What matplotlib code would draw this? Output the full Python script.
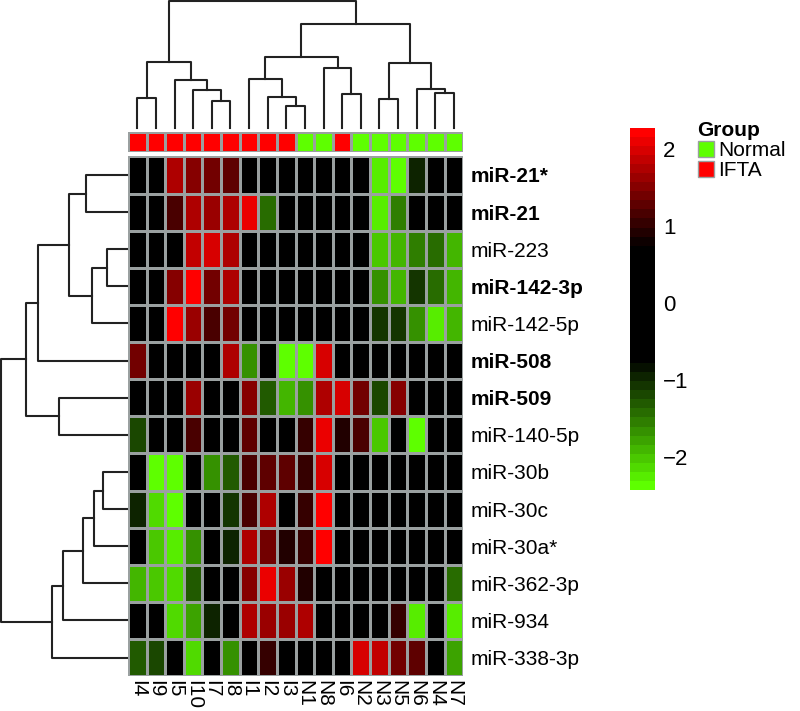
import numpy as np
import matplotlib
matplotlib.use("Agg")
import matplotlib.pyplot as plt
from matplotlib.colors import LinearSegmentedColormap, ListedColormap
from matplotlib.patches import Patch

plt.rcParams['font.family'] = ['Liberation Sans', 'DejaVu Sans']

#%% data

samples = ["I4", "I9", "I5", "I10", "I7", "I8", "I1", "I2", "I3",
           "N1", "N8", "I6", "N2", "N3", "N5", "N6", "N4", "N7"]
groups = ["IFTA"] * 9 + ["Normal", "Normal", "IFTA"] + ["Normal"] * 6

mirnas = ["miR-21*", "miR-21", "miR-223", "miR-142-3p", "miR-142-5p",
          "miR-508", "miR-509", "miR-140-5p", "miR-30b", "miR-30c",
          "miR-30a*", "miR-362-3p", "miR-934", "miR-338-3p"]
bold_mirnas = ["miR-21*", "miR-21", "miR-142-3p", "miR-508", "miR-509"]

# z-scores (row by row, columns in sample order)
expr = [
    [0, 0, 1.77, 1.47, 1.35, 1.23, 0, 0, 0, 0, 0, 0, 0, -2.24, -2.4, -0.96, 0, 0],
    [0, 0, 1.13, 1.8, 1.6, 1.7, 2.13, -1.47, 0, 0, 0, 0, 0, -2.27, -1.58, 0, 0, 0],
    [0, 0, 0, 1.9, 1.99, 1.7, 0, 0, 0, 0, 0, 0, 0, -2.0, -1.88, -1.58, -1.37, -1.94],
    [0, 0, 1.51, 2.18, 1.42, 1.7, 0, 0, 0, 0, 0, 0, 0, -1.68, -1.88, -1.06, -1.47, -1.88],
    [0, 0, 2.27, 1.6, 1.13, 1.42, 0, 0, 0, 0, 0, 0, 0, -1.06, -1.1, -1.68, -2.3, -1.84],
    [1.42, 0, 0, 0, 0, 1.75, -1.68, 0, -2.35, -2.4, 1.94, 0, 0, 0, 0, 0, 0, 0],
    [0, 0, 0, 1.6, 0, 0, 1.51, -1.27, -1.84, -1.68, 1.7, 1.94, 1.42, -1.16, 1.51, 0, 0, 0],
    [-1.16, 0, 0, 1.13, 0, 0, 1.23, 0, 0, 1.04, 2.04, 0.94, 1.13, -1.99, 0, -2.4, 0, 0],
    [0, -2.4, -2.4, 0, -1.68, -1.27, 1.13, 1.32, 1.23, 1.04, 1.94, 0, 0, 0, 0, 0, 0, 0],
    [-1.0, -2.1, -2.4, 0, 0, -1.1, 1.13, 1.7, 0, 1.04, 2.27, 0, 0, 0, 0, 0, 0, 0],
    [0, -1.99, -2.3, -1.68, 0, -1.0, 1.8, 1.42, 0.9, 0.99, 2.27, 0, 0, 0, 0, 0, 0, 0],
    [-1.88, -2.0, -2.1, -1.27, 0, 0, 1.51, 2.04, 1.65, 0.94, 0, 0, 0, 0, 0, 0, 0, -1.47],
    [0, 0, -2.1, -1.75, -1.0, 0, 1.7, 1.6, 1.65, 1.7, 0, 0, 0, 0, 0.99, -2.2, 0, -2.2],
    [-1.27, -1.16, 0, -2.1, 0, -1.68, 0, 0.99, 0, 0, 0, 0, 1.99, 1.9, 1.42, 1.32, 0, -1.75],
]

# dendrograms as nested (left, right, height) tuples, heights in pixels
col_tree = (
    (("I4", "I9", 30), ("I5", ("I10", ("I7", "I8", 27), 38), 48), 66),
    ((("I1", ("I2", ("I3", "N1", 22), 31), 49), ("N8", ("I6", "N2", 34), 60), 71),
     (("N3", "N5", 29), ("N6", ("N4", "N7", 35), 39), 65), 104),
    127)

row_tree = (
    (((("miR-21*", "miR-21", 41),
       (("miR-223", "miR-142-3p", 20), "miR-142-5p", 35), 58), "miR-508", 89),
     ("miR-509", "miR-140-5p", 68), 101),
    (((((("miR-30b", "miR-30c", 24), "miR-30a*", 33), "miR-362-3p", 44),
        "miR-934", 64), "miR-338-3p", 75)),
    126)

#%% colours

green = "#5EFF00"
red = "#FF0000"
grid_col = "#9AA0A0"
vmin, vmax = -2.42, 2.27
lo = (-0.75 - vmin) / (vmax - vmin)
hi = (0.75 - vmin) / (vmax - vmin)
cmap = LinearSegmentedColormap.from_list(
    "gbr", [(0, green), (lo, "black"), (hi, "black"), (1, red)], N=40)


def draw_tree(ax, node, pos, side):
    if isinstance(node, str):
        return pos[node], 0
    left, right, h = node
    xl, hl = draw_tree(ax, left, pos, side)
    xr, hr = draw_tree(ax, right, pos, side)
    xs = [xl, xl, xr, xr]
    hs = [hl, h, h, hr]
    if side == "top":
        ax.plot(xs, hs, color="#222222", lw=1.5, clip_on=False)
    else:
        ax.plot(hs, xs, color="#222222", lw=1.5, clip_on=False)
    return (xl + xr) / 2, h


#%% figure

fs = 15
fig = plt.figure(figsize=(8, 7.11), dpi=100)

ax_hm = fig.add_axes([0.16, 0.049, 0.419, 0.731])
ax_grp = fig.add_axes([0.16, 0.786, 0.419, 0.0281])
ax_cd = fig.add_axes([0.16, 0.82, 0.419, 0.1786])
ax_rd = fig.add_axes([0.0, 0.049, 0.159, 0.731])
cax = fig.add_axes([0.7875, 0.311, 0.031, 0.509])

data = np.array(expr)
nr, nc = data.shape

mesh = ax_hm.pcolormesh(data, cmap=cmap, vmin=vmin, vmax=vmax,
                        edgecolors=grid_col, linewidth=1.0)
ax_hm.set_xlim(0, nc)
ax_hm.set_ylim(nr, 0)
ax_hm.yaxis.tick_right()
ax_hm.set_xticks(np.arange(nc) + 0.5)
ax_hm.set_xticklabels(samples, rotation=270, fontsize=fs)
ax_hm.set_yticks(np.arange(nr) + 0.5)
ax_hm.set_yticklabels(mirnas, fontsize=fs)
for t in ax_hm.yaxis.get_major_ticks():
    if t.label2.get_text() in bold_mirnas:
        t.label2.set_fontweight("bold")
ax_hm.tick_params(length=0, pad=5)
ax_hm.tick_params(axis="x", pad=3)
for s in ax_hm.spines.values():
    s.set_visible(False)

# group bar
grp_codes = np.array([[0 if g == "Normal" else 1 for g in groups]])
ax_grp.pcolormesh(grp_codes, cmap=ListedColormap([green, red]), vmin=0, vmax=1,
                  edgecolors=grid_col, linewidth=1.0)
ax_grp.set_xlim(0, nc)
ax_grp.axis("off")

# dendrograms
col_pos = {s: i + 0.5 for i, s in enumerate(samples)}
draw_tree(ax_cd, col_tree, col_pos, "top")
ax_cd.set_xlim(0, nc)
ax_cd.set_ylim(0, 127)
ax_cd.axis("off")

row_pos = {m: i + 0.5 for i, m in enumerate(mirnas)}
draw_tree(ax_rd, row_tree, row_pos, "left")
ax_rd.set_ylim(nr, 0)
ax_rd.set_xlim(127, 0)
ax_rd.axis("off")

# colour key
cb = fig.colorbar(mesh, cax=cax, ticks=[-2, -1, 0, 1, 2])
cb.outline.set_visible(False)
cax.tick_params(length=0, pad=6, labelsize=fs + 1)

# group legend
handles = [Patch(facecolor=green, edgecolor=grid_col, label="Normal"),
           Patch(facecolor=red, edgecolor=grid_col, label="IFTA")]
leg = fig.legend(handles=handles, title="Group", loc="upper left",
                 bbox_to_anchor=(0.872, 0.83), frameon=False, fontsize=fs,
                 handlelength=0.8, handleheight=0.8, handletextpad=0.2,
                 labelspacing=0.05, borderaxespad=0, borderpad=0)
leg.get_title().set_fontweight("bold")
leg.get_title().set_fontsize(fs)
leg._legend_box.align = "left"

fig.savefig("out.png", dpi=100)
